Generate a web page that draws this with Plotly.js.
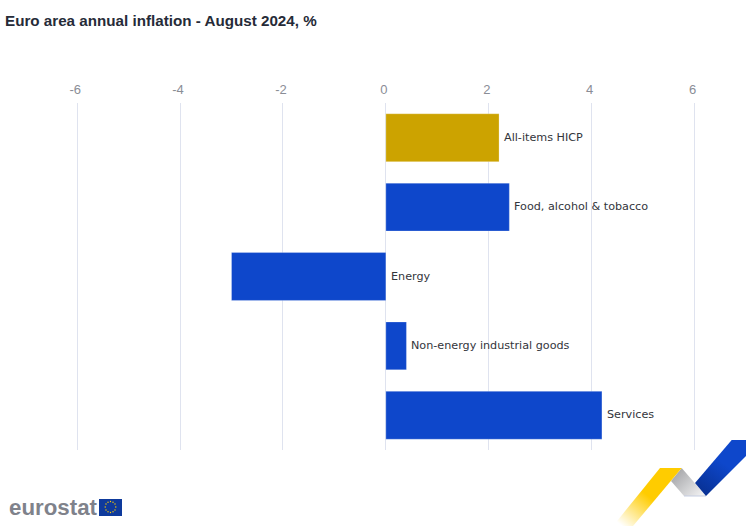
<!DOCTYPE html>
<html><head><meta charset="utf-8">
<script src="https://cdn.plot.ly/plotly-3.0.1.min.js"></script>
<style>html,body{margin:0;padding:0;background:#fff;overflow:hidden}#c{width:746px;height:528px}</style>
</head><body><div id="c"></div>
<script>
const categories = ["All-items HICP","Food, alcohol & tobacco","Energy","Non-energy industrial goods","Services"];
const values = [2.2,2.4,-3.0,0.4,4.2];
const barColors = ["#cca300","#0e47cb","#0e47cb","#0e47cb","#0e47cb"];
const xTicks = [-6,-4,-2,0,2,4,6];
const W=746,H=528,T=103,B=450;
const px=x=>x/W, py=y=>(B-y)/(B-T);
function uri(s){return "data:image/svg+xml;charset=utf-8,"+encodeURIComponent(s);}
const ribbon = `<svg xmlns="http://www.w3.org/2000/svg" width="146" height="108" viewBox="600 420 146 108">
<defs>
<linearGradient id="y" gradientUnits="userSpaceOnUse" x1="668" y1="470" x2="622" y2="526"><stop offset="0" stop-color="#ffcc00"/><stop offset="0.45" stop-color="#ffcc00"/><stop offset="1" stop-color="#ffcc00" stop-opacity="0"/></linearGradient>
<linearGradient id="g" gradientUnits="userSpaceOnUse" x1="675" y1="472" x2="700" y2="497"><stop offset="0" stop-color="#a6a7aa"/><stop offset="1" stop-color="#f0f0f1"/></linearGradient>
<linearGradient id="b" gradientUnits="userSpaceOnUse" x1="722" y1="462" x2="698" y2="494"><stop offset="0" stop-color="#0e47cb"/><stop offset="1" stop-color="#082f8f"/></linearGradient>
</defs>
<polygon points="681.7,468 706,496 684,496 671,481" fill="url(#g)"/>
<polygon points="684,495.5 706,495.5 706,496.5 684,496.5" fill="#c5cce0"/>
<polygon points="660,468 681.7,468 633,526 613,526" fill="url(#y)"/>
<polygon points="731.7,440 746,440 746,456 706,496 695,483" fill="url(#b)"/>
</svg>`;
let stars="";
const sx=[110.5,113,115,115.8,115,113,110.5,108,106,105.2,106,108];
const sy=[501.5,502.2,504,507,510,511.8,512.5,511.8,510,507,504,502.2];
for(let i=0;i<12;i++) stars+=`<circle cx="${sx[i]}" cy="${sy[i]}" r="0.7" fill="#ffcc00"/>`;
const flag = `<svg xmlns="http://www.w3.org/2000/svg" width="23" height="17" viewBox="99 499 23 17"><rect x="99" y="499" width="23" height="17" fill="#0e3a9c"/>${stars}</svg>`;
const annotations = categories.map((c,i)=>({
  x:Math.max(values[i],0), y:c, xref:"x", yref:"y", text:c, showarrow:false,
  xanchor:"left", yanchor:"middle", xshift:3, yshift:0.5,
  font:{family:"DejaVu Sans, sans-serif",size:11.2,color:"#33353b"}
}));
annotations.push({xref:"paper",yref:"paper",x:px(6.5),y:py(507.5),xanchor:"left",yanchor:"middle",showarrow:false,
  text:"<b>eurostat</b>",font:{family:"Liberation Sans, sans-serif",size:22.3,color:"#7f828b"}});
const data=[{type:"bar",orientation:"h",y:categories,x:values,
  marker:{color:barColors,line:{color:"rgba(255,255,255,0.25)",width:1}},hoverinfo:"x+y",showlegend:false}];
const layout={
  width:W,height:H,paper_bgcolor:"#fff",plot_bgcolor:"#fff",
  margin:{l:0,r:0,t:T,b:H-B,pad:0},showlegend:false,bargap:0.31,
  title:{text:"<b>Euro area annual inflation - August 2024, %</b>",x:5/W,xanchor:"left",y:1-21/H,yanchor:"middle",
    font:{family:"Liberation Sans, Arial, sans-serif",size:15.2,color:"#262b38"}},
  xaxis:{side:"top",range:[-7.5,7.0],tickvals:xTicks,ticktext:xTicks.map(String),
    showgrid:true,gridcolor:"#dfe3ef",gridwidth:1,zeroline:true,zerolinecolor:"#dfe3ef",zerolinewidth:1,showline:false,ticks:"",ticklen:0,
    ticklabelstandoff:5,ticklabelshift:-2,
    tickfont:{family:"Liberation Sans, Arial, sans-serif",size:13,color:"#8a8d96"},automargin:false},
  yaxis:{autorange:"reversed",type:"category",showticklabels:false,showgrid:false,zeroline:false,showline:false,ticks:"",automargin:false},
  annotations,
  images:[
   {source:uri(ribbon),xref:"paper",yref:"paper",x:px(600),y:py(420),sizex:146/W,sizey:108/(B-T),xanchor:"left",yanchor:"top",sizing:"stretch",layer:"above"},
   {source:uri(flag),xref:"paper",yref:"paper",x:px(99),y:py(499),sizex:23/W,sizey:17/(B-T),xanchor:"left",yanchor:"top",sizing:"stretch",layer:"above"}
  ]
};
Plotly.newPlot("c",data,layout,{displayModeBar:false,responsive:false});
</script></body></html>
